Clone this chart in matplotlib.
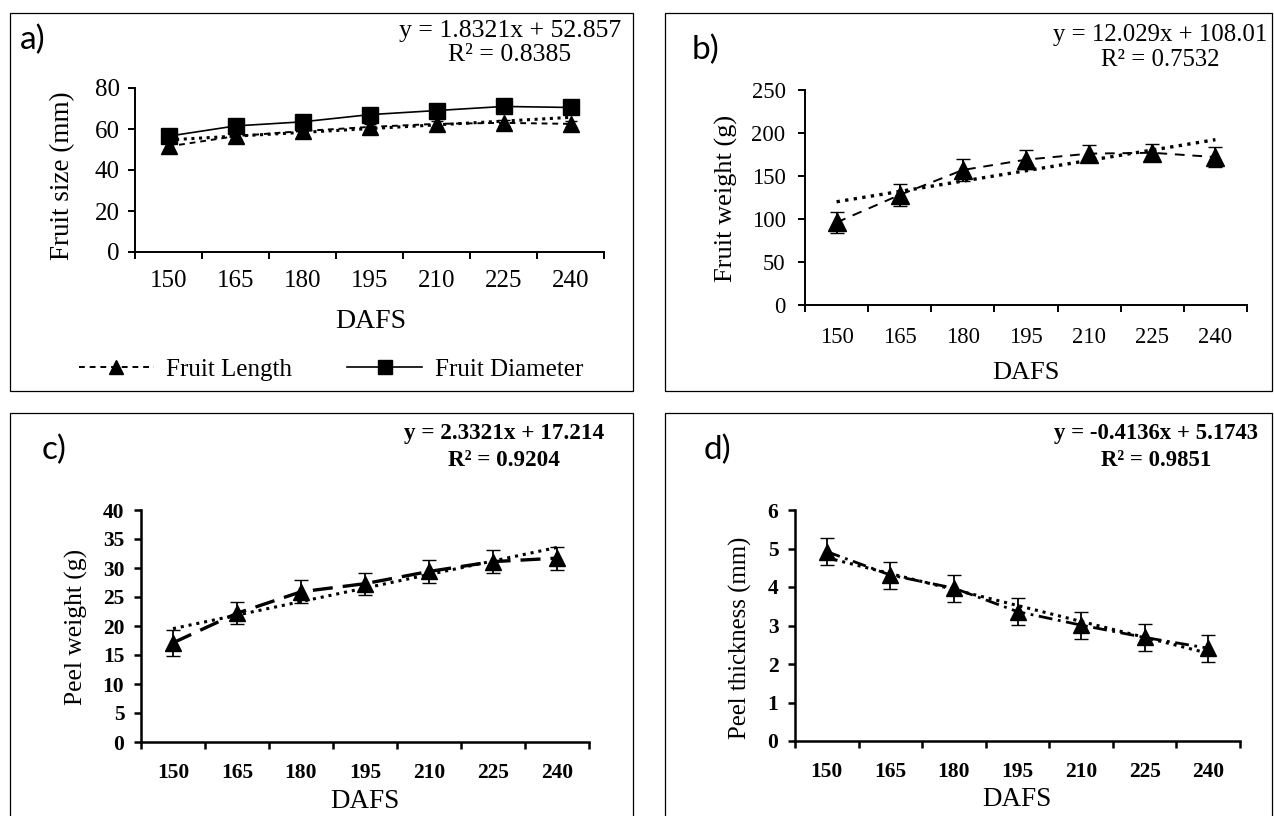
import numpy as np
import matplotlib
matplotlib.use("Agg")
import matplotlib.pyplot as plt
from matplotlib.patches import Rectangle
from matplotlib.lines import Line2D

W, H = 1274, 816

days = ["150", "165", "180", "195", "210", "225", "240"]

# a) fruit size
fruit_length = [51.5, 56.5, 59, 61, 62.5, 63, 62.5]
fruit_length_err = [1.5, 1.5, 1.5, 1.5, 1.5, 1.5, 1.5]
fruit_diameter = [56.5, 61.5, 63.5, 67, 69, 71, 70.5]
fruit_diameter_err = [1.5, 1.5, 1.5, 1.5, 1.5, 1.5, 1.5]
# b) fruit weight
fruit_weight = [96, 128, 157, 169, 176, 177, 172]
fruit_weight_err = [12, 13, 13, 11, 10, 10, 12]
# c) peel weight
peel_weight = [17.1, 22.2, 25.9, 27.3, 29.4, 31.1, 31.7]
peel_weight_err = [2.2, 1.9, 2.0, 1.9, 2.0, 2.0, 2.0]
# d) peel thickness
peel_thick = [4.92, 4.31, 3.97, 3.36, 3.01, 2.69, 2.41]
peel_thick_err = [0.35, 0.35, 0.35, 0.35, 0.35, 0.35, 0.35]

# linear trend lines as written on the chart (x = 1..7)
trend_slope = [1.8321, 12.029, 2.3321, -0.4136]
trend_icpt = [52.857, 108.01, 17.214, 5.1743]
trend_r2 = ["0.8385", "0.7532", "0.9204", "0.9851"]

SERIF = "Liberation Serif"
SANS = "Lato"

fig = plt.figure(figsize=(W / 100, H / 100), dpi=100)


def fx(x):
    return x / W


def fy(y):
    return 1 - y / H


def make_axes(x0, x1, ytop, ybot):
    return fig.add_axes([fx(x0), fy(ybot), fx(x1 - x0), (ybot - ytop) / H])


def style_axes(ax, ymax, ystep, tick_fs, bold, xpad, ypad, lw):
    pos = np.arange(len(days)) + 0.5
    ax.set_xlim(0, len(days))
    ax.set_ylim(0, ymax)
    ax.set_xticks(np.arange(len(days) + 1))
    ax.set_xticklabels([])
    ax.set_xticks(pos, minor=True)
    ax.set_xticklabels(days, minor=True)
    ax.set_yticks(np.arange(0, ymax + ystep / 2, ystep))
    for s in ["top", "right"]:
        ax.spines[s].set_visible(False)
    for s in ["left", "bottom"]:
        ax.spines[s].set_linewidth(lw)
    ax.tick_params(axis="x", which="major", length=5, width=lw, direction="out")
    ax.tick_params(axis="x", which="minor", length=0, pad=xpad)
    ax.tick_params(axis="y", length=5, width=lw, pad=ypad)
    w = "bold" if bold else "normal"
    for lab in ax.get_xticklabels(minor=True) + ax.get_yticklabels():
        lab.set_fontfamily(SERIF)
        lab.set_fontsize(tick_fs)
        lab.set_fontweight(w)
    ax.patch.set_alpha(0)
    return pos


def trend(ax, i, pos, ls, lw):
    k = np.arange(1, len(days) + 1)
    ax.plot(pos, np.polyval([trend_slope[i], trend_icpt[i]], k), color="black",
            linestyle=ls, linewidth=lw, zorder=2)


def eq_text(i, x, y1, y2, fs, bold):
    sign = "+" if trend_icpt[i] >= 0 else "-"
    w = "bold" if bold else "normal"
    fig.text(fx(x), fy(y1), "y = %gx %s %g" % (trend_slope[i], sign, abs(trend_icpt[i])),
             ha="center", va="center", family=SERIF, fontsize=fs, fontweight=w)
    fig.text(fx(x), fy(y2), "R² = %s" % trend_r2[i],
             ha="center", va="center", family=SERIF, fontsize=fs, fontweight=w)


# panel frames
for (x0, y0, x1, y1) in [(10, 13, 633, 391), (665, 13, 1272, 391),
                         (10, 413, 633, 830), (665, 413, 1272, 830)]:
    fig.patches.append(Rectangle((fx(x0), fy(y1)), fx(x1 - x0), (y1 - y0) / H,
                                 transform=fig.transFigure, fill=False,
                                 edgecolor="black", linewidth=0.9))

# ---- a) ----
ax = make_axes(135, 604, 88, 252)
pos = style_axes(ax, 80, 20, 18, False, 13, 6, 1.4)
trend(ax, 0, pos, (0, (1, 1.5)), 2.2)
ax.errorbar(pos, fruit_length, yerr=fruit_length_err, color="black", linestyle=(0, (3, 2.5)),
            linewidth=1.4, marker="^", markersize=12, capsize=4, zorder=3)
ax.errorbar(pos, fruit_diameter, yerr=fruit_diameter_err, color="black", linestyle="-",
            linewidth=1.2, marker="s", markersize=12, capsize=4, zorder=4)
handles = [Line2D([], [], color="black", linestyle=(0, (3, 2.5)), linewidth=1.4,
                  marker="^", markersize=10),
           Line2D([], [], color="black", linestyle="-", linewidth=1.2,
                  marker="s", markersize=10)]
fig.legend(handles, ["Fruit Length", "Fruit Diameter"], loc="center",
           bbox_to_anchor=(fx(331), fy(370)), ncol=2, frameon=False,
           prop={"family": SERIF, "size": 18}, handlelength=3.0, columnspacing=2.2,
           handletextpad=0.5)
fig.text(fx(371), fy(322), "DAFS", ha="center", va="center", family=SERIF, fontsize=20)
fig.text(fx(63), fy(176), "Fruit size (mm)", ha="center", va="center", rotation=90,
         family=SERIF, fontsize=19.5)
fig.text(fx(20), fy(40), "a)", ha="left", va="center", family=SANS, fontsize=24)
eq_text(0, 510, 31, 55, 18.5, False)

# ---- b) ----
ax = make_axes(805, 1247, 90, 305)
pos = style_axes(ax, 250, 50, 16.3, False, 16, 9, 1.4)
trend(ax, 1, pos, (0, (1, 1.6)), 2.4)
ax.errorbar(pos, fruit_weight, yerr=fruit_weight_err, color="black", linestyle=(0, (5, 4)),
            linewidth=1.4, marker="^", markersize=13, capsize=5, zorder=3)
fig.text(fx(1026), fy(373), "DAFS", ha="center", va="center", family=SERIF, fontsize=19)
fig.text(fx(726), fy(198), "Fruit weight (g)", ha="center", va="center", rotation=90,
         family=SERIF, fontsize=19)
fig.text(fx(692), fy(50), "b)", ha="left", va="center", family=SANS, fontsize=24)
eq_text(1, 1160, 35, 60, 17.8, False)

# ---- c) ----
ax = make_axes(141, 589, 510, 742)
pos = style_axes(ax, 40, 5, 15.5, True, 15, 7, 1.8)
trend(ax, 2, pos, (0, (1, 1.6)), 2.2)
ax.errorbar(pos, peel_weight, yerr=peel_weight_err, color="black", linestyle=(0, (6, 3)),
            linewidth=2.4, marker="^", markersize=12, capsize=5, elinewidth=1.3, zorder=3)
fig.text(fx(365), fy(801), "DAFS", ha="center", va="center", family=SERIF, fontsize=19.5)
fig.text(fx(76), fy(627), "Peel weight (g)", ha="center", va="center", rotation=90,
         family=SERIF, fontsize=18.4)
fig.text(fx(42), fy(450), "c)", ha="left", va="center", family=SANS, fontsize=24)
eq_text(2, 504, 434, 461, 16.7, True)

# ---- d) ----
ax = make_axes(795, 1240, 510, 741)
pos = style_axes(ax, 6, 1, 15.5, True, 15, 7, 1.8)
trend(ax, 3, pos, (0, (1, 1.6)), 2.2)
ax.errorbar(pos, peel_thick, yerr=peel_thick_err, color="black", linestyle=(0, (5, 2, 1, 2)),
            linewidth=2.0, marker="^", markersize=12, capsize=5, elinewidth=1.3, zorder=3)
fig.text(fx(1017), fy(799), "DAFS", ha="center", va="center", family=SERIF, fontsize=19.5)
fig.text(fx(740), fy(638), "Peel thickness (mm)", ha="center", va="center", rotation=90,
         family=SERIF, fontsize=17.8)
fig.text(fx(704), fy(450), "d)", ha="left", va="center", family=SANS, fontsize=24)
eq_text(3, 1156, 434, 461, 16.4, True)

fig.savefig("out.png", dpi=100)
